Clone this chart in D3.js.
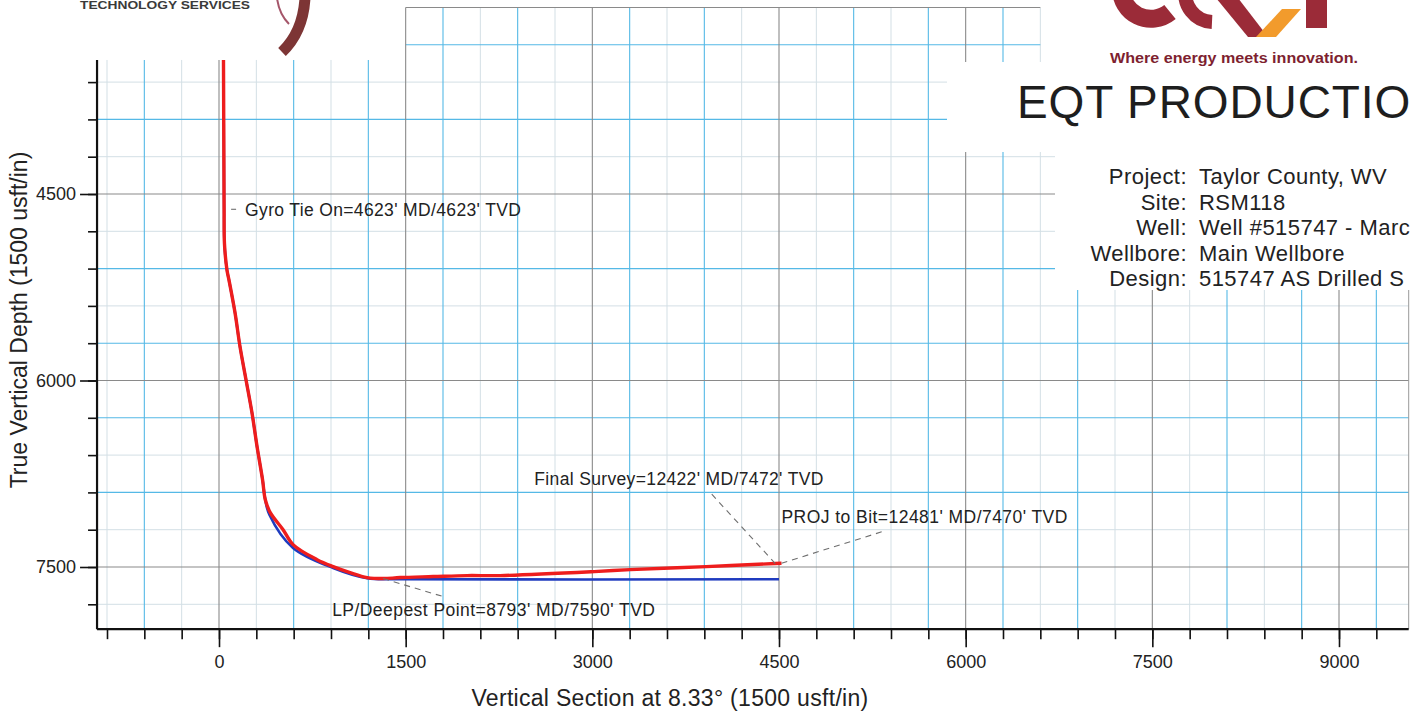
<!DOCTYPE html>
<html>
<head>
<meta charset="utf-8">
<script src="https://cdn.jsdelivr.net/npm/d3@7"></script>
<style>
  html, body { margin: 0; padding: 0; background: #fff; overflow: hidden; }
  svg { display: block; }
  text { font-family: "Liberation Sans", Arial, Helvetica, sans-serif; fill: #222; }
</style>
</head>
<body>
<svg id="chart" width="1414" height="714"></svg>
<script>
// ---------------- DATA ----------------
// Actual wellpath (red): vertical section (usft) and true vertical depth (usft)
const VS_ACTUAL  = [36, 40, 41, 44, 64, 80, 129, 169, 217, 265, 306, 350, 372, 412, 515, 595, 788, 917, 1053, 1190, 1319, 1455, 1721, 1994, 2259, 3015, 3304, 3915, 4470, 4520];
const TVD_ACTUAL = [3422, 4400, 4623, 4900, 5111, 5191, 5456, 5729, 5994, 6260, 6533, 6798, 6959, 7063, 7200, 7320, 7441, 7497, 7545, 7585, 7593, 7585, 7577, 7569, 7569, 7537, 7521, 7497, 7472, 7470];
// Plan (blue)
const VS_PLAN  = [36, 40, 41, 44, 64, 80, 129, 169, 217, 265, 306, 350, 372, 405, 595, 917, 1190, 1450, 4500];
const TVD_PLAN = [3422, 4400, 4623, 4900, 5111, 5191, 5456, 5729, 5994, 6260, 6533, 6798, 6959, 7080, 7347, 7508, 7590, 7598, 7598];

const X_TICKS = [0, 1500, 3000, 4500, 6000, 7500, 9000];
const X_TICK_LABELS = ["0", "1500", "3000", "4500", "6000", "7500", "9000"];
const Y_TICKS = [4500, 6000, 7500];
const Y_TICK_LABELS = ["4500", "6000", "7500"];

const ANNOT_TEXT = ["Gyro Tie On=4623' MD/4623' TVD", "Final Survey=12422' MD/7472' TVD", "PROJ to Bit=12481' MD/7470' TVD", "LP/Deepest Point=8793' MD/7590' TVD"];
const ANNOT_VS  = [41, 4470, 4520, 1319];
const ANNOT_TVD = [4623, 7472, 7470, 7593];

const INFO_KEYS = ["Project:", "Site:", "Well:", "Wellbore:", "Design:"];
const INFO_VALUES = ["Taylor County, WV", "RSM118", "Well #515747 - Marc", "Main Wellbore", "515747 AS Drilled S"];

const X_TITLE = "Vertical Section at 8.33\u00B0 (1500 usft/in)";
const Y_TITLE = "True Vertical Depth (1500 usft/in)";
const COMPANY = "EQT PRODUCTIO";
const TAGLINE = "Where energy meets innovation.";
const LEFT_LOGO_TEXT = "TECHNOLOGY SERVICES";

// ---------------- SCALES ----------------
const svg = d3.select("#chart");
const x = d3.scaleLinear().domain([0, 9000]).range([219, 1339]);
const y = d3.scaleLinear().domain([4500, 7500]).range([194, 567]);
const X_MIN = -980, X_MAX = 9560, Y_MIN = 3422, Y_MAX = 8000;
const STEP = 300;

const COL_MAJOR = "#8a8a8a", COL_BLUE = "#55b9e6", COL_LIGHT = "#d3dfe5";

function vStyle(v) {
  if (v % 1500 === 0) return COL_MAJOR;
  const i = Math.round(v / STEP);
  const blue = v < 3000 ? (Math.abs(i) % 2 === 0) : (Math.abs(i) % 2 === 1);
  return blue ? COL_BLUE : COL_LIGHT;
}
function hStyle(v) {
  if (v % 1500 === 0) return COL_MAJOR;
  const i = Math.round(v / STEP);
  return (i % 2 === 1) ? COL_BLUE : COL_LIGHT;
}

function drawGrid(g, x0, x1, y0, y1) {
  const xs = d3.range(Math.ceil(x0 / STEP) * STEP, x1 + 1, STEP);
  const ys = d3.range(Math.ceil(y0 / STEP) * STEP, y1 + 1, STEP);
  const order = s => s === COL_LIGHT ? 0 : (s === COL_BLUE ? 1 : 2);
  const vl = xs.map(v => ({v, s: vStyle(v), dir: "v"}));
  const hl = ys.map(v => ({v, s: hStyle(v), dir: "h"}));
  const all = vl.concat(hl);
  all.sort((a, b) => order(a.s) - order(b.s));
  g.selectAll(null).data(all).enter().append("line")
    .attr("x1", d => d.dir === "v" ? x(d.v) : x(x0))
    .attr("x2", d => d.dir === "v" ? x(d.v) : x(x1))
    .attr("y1", d => d.dir === "v" ? y(y0) : y(d.v))
    .attr("y2", d => d.dir === "v" ? y(y1) : y(d.v))
    .attr("stroke", d => d.s)
    .attr("stroke-width", d => d.s === COL_LIGHT ? 1 : 1.1);
}

const gridG = svg.append("g");
drawGrid(gridG, X_MIN, X_MAX, Y_MIN, Y_MAX);
drawGrid(gridG, 1500, 6600, 3000, Y_MIN);
gridG.append("line").attr("x1", x(X_MAX)).attr("x2", x(X_MAX)).attr("y1", y(Y_MIN)).attr("y2", y(Y_MAX))
  .attr("stroke", "#999").attr("stroke-width", 1);

// white panels of the title block covering the grid
svg.append("rect").attr("x", 947).attr("y", 62).attr("width", 467).attr("height", 90).attr("fill", "#fff");
svg.append("rect").attr("x", 1055).attr("y", 0).attr("width", 359).attr("height", 290).attr("fill", "#fff");

// ---------------- LOGOS / TITLE BLOCK ----------------
svg.append("text").attr("x", 80).attr("y", 9).attr("textLength", 170).attr("lengthAdjust", "spacingAndGlyphs")
  .style("font-size", "11px").style("font-weight", "bold").style("fill", "#3a3a3a").text(LEFT_LOGO_TEXT);
svg.append("path").attr("d", "M305,-2 Q303,32 282,52").attr("fill", "none").attr("stroke", "#7d3535").attr("stroke-width", 11);
svg.append("path").attr("d", "M277,-2 Q279,14 289,24").attr("fill", "none").attr("stroke", "#a5566a").attr("stroke-width", 2);

const logoRed = "#9b2b38", logoOrange = "#f29b2c";
svg.append("path").attr("d", "M1121,-12 A30,30 0 0 0 1170,12").attr("fill", "none").attr("stroke", logoRed).attr("stroke-width", 18);
svg.append("path").attr("d", "M1186,-12 A28,28 0 0 0 1212,22").attr("fill", "none").attr("stroke", logoRed).attr("stroke-width", 14);
svg.append("path").attr("d", "M1216,-2 L1238,-2 L1268,37 L1248,37 Z").attr("fill", logoRed);
svg.append("path").attr("d", "M1256,37 L1276,37 L1301,9 L1282,9 Z").attr("fill", logoOrange);
svg.append("rect").attr("x", 1306).attr("y", -2).attr("width", 21).attr("height", 30).attr("fill", logoRed);
svg.append("text").attr("x", 1234).attr("y", 63).attr("text-anchor", "middle")
  .attr("textLength", 248).attr("lengthAdjust", "spacingAndGlyphs")
  .style("font-size", "14px").style("font-weight", "bold").style("fill", "#7e1f30").text(TAGLINE);

svg.append("text").attr("x", 1017).attr("y", 118)
  .style("font-size", "46px").style("letter-spacing", "0.9px").style("fill", "#1e1e1e").text(COMPANY);

const info = svg.append("g").style("font-size", "22px").style("letter-spacing", "0.45px");
info.selectAll(null).data(INFO_KEYS).enter().append("text")
  .attr("x", 1187).attr("y", (d, i) => 184 + i * 25.5).attr("text-anchor", "end").text(d => d);
info.selectAll(null).data(INFO_VALUES).enter().append("text")
  .attr("x", 1199).attr("y", (d, i) => 184 + i * 25.5).text(d => d);

// ---------------- AXES ----------------
const axG = svg.append("g");
const xMinor = d3.range(-900, X_MAX, STEP);
const yMinor = d3.range(3600, Y_MAX, STEP);
const yBase = y(Y_MAX), xBase = x(X_MIN);

axG.append("g").attr("transform", `translate(0,${yBase})`)
  .call(d3.axisBottom(x).tickValues(xMinor).tickSize(10).tickSizeOuter(0).tickFormat(""));
axG.append("g").attr("transform", `translate(0,${yBase})`)
  .call(d3.axisBottom(x).tickValues(X_TICKS).tickSize(18).tickSizeOuter(0).tickPadding(8)
    .tickFormat((d, i) => X_TICK_LABELS[i]));
axG.append("g").attr("transform", `translate(${xBase},0)`)
  .call(d3.axisLeft(y).tickValues(yMinor).tickSize(9).tickSizeOuter(0).tickFormat(""));
axG.append("g").attr("transform", `translate(${xBase},0)`)
  .call(d3.axisLeft(y).tickValues(Y_TICKS).tickSize(17).tickSizeOuter(0).tickPadding(4)
    .tickFormat((d, i) => Y_TICK_LABELS[i]));
axG.selectAll(".domain").remove();
axG.selectAll(".tick line").attr("stroke", "#111").attr("stroke-width", 1.6);
axG.selectAll(".tick text").attr("fill", "#222").style("font-size", "18px")
  .style("font-family", "'Liberation Sans', Arial, sans-serif");
axG.append("line").attr("x1", xBase).attr("x2", x(X_MAX)).attr("y1", yBase).attr("y2", yBase)
  .attr("stroke", "#111").attr("stroke-width", 2.2);
axG.append("line").attr("x1", xBase).attr("x2", xBase).attr("y1", y(Y_MIN)).attr("y2", yBase)
  .attr("stroke", "#111").attr("stroke-width", 2.2);

svg.append("text").attr("x", 670).attr("y", 706).attr("text-anchor", "middle")
  .style("font-size", "23px").style("letter-spacing", "0.3px").text(X_TITLE);
svg.append("text").attr("transform", "translate(27,320) rotate(-90)").attr("text-anchor", "middle")
  .style("font-size", "23px").text(Y_TITLE);

// ---------------- WELLPATHS ----------------
const line = d3.line().x(d => x(d[0])).y(d => y(d[1])).curve(d3.curveCatmullRom.alpha(0.5));
const planPts = VS_PLAN.map((v, i) => [v, TVD_PLAN[i]]);
const actPts = VS_ACTUAL.map((v, i) => [v, TVD_ACTUAL[i]]);
svg.append("path").attr("d", line(planPts)).attr("fill", "none").attr("stroke", "#1f3bbf").attr("stroke-width", 2.6);
svg.append("path").attr("d", line(actPts)).attr("fill", "none").attr("stroke", "#ee1d1d").attr("stroke-width", 3.4)
  .attr("stroke-linejoin", "round");

// ---------------- ANNOTATIONS ----------------
const ann = svg.append("g").style("font-size", "17.5px");
// label offsets relative to the annotated point (pixels)
const LABEL_OFF = [[21, 7], [-241, -79], [0, -40], [-51, 37]];
const LEADER_END = [[12, 0], [-66, -72], [102, -32], [60, 18]];
const LABEL_SPACING = ["0.35px", "0.35px", "0.45px", "0.45px"];
ANNOT_TEXT.forEach((t, i) => {
  const px = x(ANNOT_VS[i]), py = y(ANNOT_TVD[i]);
  ann.append("line")
    .attr("x1", px + (i === 0 ? 7 : 0)).attr("y1", py)
    .attr("x2", px + LEADER_END[i][0]).attr("y2", py + LEADER_END[i][1])
    .attr("stroke", "#6f6f6f").attr("stroke-width", 1.1)
    .attr("stroke-dasharray", i === 0 ? null : "6,5");
  ann.append("text").attr("x", px + LABEL_OFF[i][0]).attr("y", py + LABEL_OFF[i][1])
    .style("letter-spacing", LABEL_SPACING[i]).text(t);
});
</script>
</body>
</html>
